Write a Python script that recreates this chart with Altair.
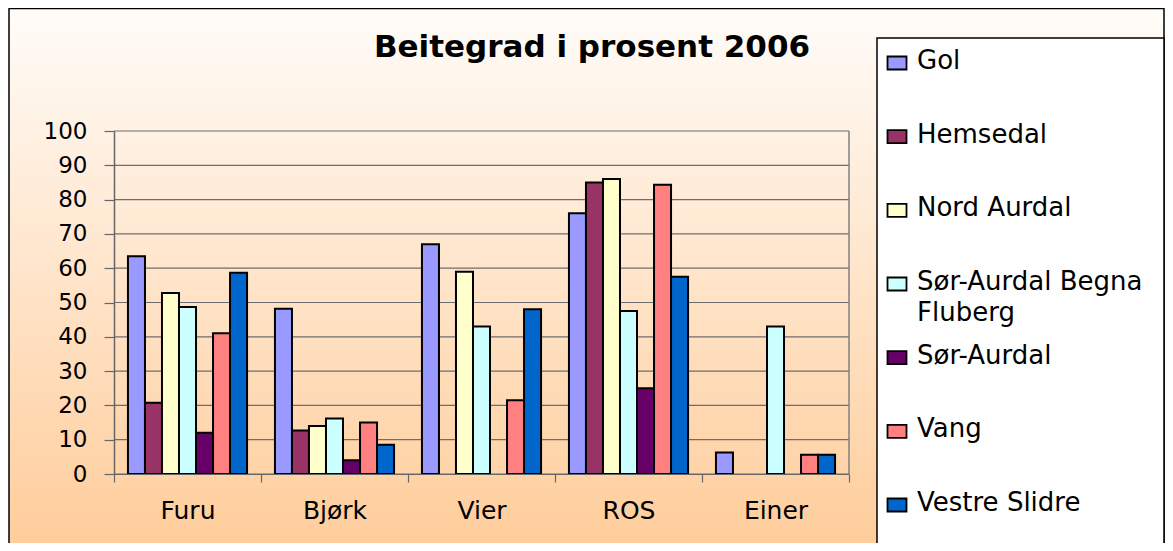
import altair as alt
import pandas as pd

# ---- data ----
categories = ["Furu", "Bjørk", "Vier", "ROS", "Einer"]
series = ["Gol", "Hemsedal", "Nord Aurdal", "Sør-Aurdal Begna Fluberg",
          "Sør-Aurdal", "Vang", "Vestre Slidre"]
series_labels = ["Gol", "Hemsedal", "Nord Aurdal", "Sør-Aurdal Begna\nFluberg",
                 "Sør-Aurdal", "Vang", "Vestre Slidre"]
colors = ["#9999FF", "#993366", "#FFFFCC", "#CCFFFF", "#660066", "#FF8080", "#0066CC"]

gol = [63.5, 48.2, 67, 76, 6.3]
hemsedal = [20.8, 12.7, None, 85, None]
nord_aurdal = [52.8, 14, 59, 86, None]
sor_aurdal_bf = [48.7, 16.2, 43, 47.5, 43]
sor_aurdal = [12, 4, None, 25, None]
vang = [41, 15, 21.5, 84.3, 5.6]
vestre_slidre = [58.7, 8.5, 48, 57.5, 5.6]

y_ticks = list(range(0, 101, 10))
title_text = "Beitegrad i prosent 2006"

FONT = "DejaVu Sans"

# ---- tables ----
values_by_series = [gol, hemsedal, nord_aurdal, sor_aurdal_bf, sor_aurdal, vang, vestre_slidre]
rows = []
for s, vals in zip(series, values_by_series):
    for c, v in zip(categories, vals):
        if v is not None:
            rows.append({"cat": c, "series": s, "value": v})
df = pd.DataFrame(rows)
df_leg = pd.DataFrame({"series": series, "label": series_labels})
df_ticks = pd.DataFrame({"v": y_ticks})
df_title = pd.DataFrame({"t": [title_text]})
one = pd.DataFrame({"a": [0]})

W, H = 735, 343
PAD_L, PAD_T, PAD_R, PAD_B = 106, 123, 316, 69
RIGHT = W + PAD_R - 1  # right edge of drawing in plot coords

color_scale = alt.Scale(domain=series, range=colors)
leg_y = alt.Y("series:N", sort=series,
              scale=alt.Scale(type="point", domain=series, range=[-68, 374], padding=0),
              axis=None)

gradient = alt.Gradient(
    gradient="linear", x1=0, y1=0, x2=0, y2=1,
    stops=[alt.GradientStop(color="#FFFCF9", offset=0),
           alt.GradientStop(color="#FFCC99", offset=1)],
)

bg = alt.Chart(one).mark_rect(fill=gradient, stroke="black", strokeWidth=1.5).encode(
    x=alt.value(-105), x2=alt.value(RIGHT), y=alt.value(-122.5), y2=alt.value(425)
)

legend_box = alt.Chart(one).mark_rect(fill="white", stroke="black", strokeWidth=1.5).encode(
    x=alt.value(763), x2=alt.value(RIGHT), y=alt.value(-93), y2=alt.value(430)
)

grid = alt.Chart(df_ticks).mark_rule(color="#6E6E6E", strokeWidth=1.2).encode(
    y=alt.Y("v:Q", scale=alt.Scale(domain=[0, 100], nice=False), axis=None),
    x=alt.value(0), x2=alt.value(W),
)

right_border = alt.Chart(one).mark_rule(color="#808080", strokeWidth=1.5).encode(
    x=alt.value(W), y=alt.value(0), y2=alt.value(H)
)

bars = alt.Chart(df).mark_bar(stroke="black", strokeWidth=2).encode(
    x=alt.X("cat:N", sort=categories,
            scale=alt.Scale(domain=categories, paddingInner=0, paddingOuter=0),
            axis=alt.Axis(title=None, labelAngle=0, tickBand="extent", tickSize=8,
                          labelFontSize=25, labelFont=FONT, labelColor="black",
                          labelPadding=16, domainColor="#666666", tickColor="#666666",
                          tickWidth=1.2, domainWidth=1.2, grid=False, zindex=1)),
    xOffset=alt.XOffset("series:N", sort=series,
                        scale=alt.Scale(domain=series, paddingInner=0, paddingOuter=0.82)),
    y=alt.Y("value:Q", scale=alt.Scale(domain=[0, 100], nice=False),
            axis=alt.Axis(values=y_ticks, title=None, grid=False, tickSize=10,
                          labelPadding=17, labelFontSize=23, labelFont=FONT,
                          labelColor="black", domainColor="#666666", tickColor="#666666",
                          tickWidth=1.2, domainWidth=1.5, zindex=1)),
    color=alt.Color("series:N", scale=color_scale, legend=None),
)

leg_sym = alt.Chart(df_leg).mark_point(
    shape="M-1,-0.684H1V0.684H-1Z", size=361, filled=True, opacity=1,
    stroke="black", strokeWidth=1.8,
).encode(
    x=alt.value(783), y=leg_y,
    color=alt.Color("series:N", scale=color_scale, legend=None),
)

leg_txt = alt.Chart(df_leg).mark_text(
    align="left", baseline="middle", font=FONT, fontSize=26, lineBreak="\n",
    lineHeight=31, dy=-2, color="black",
).encode(x=alt.value(803), y=leg_y, text="label:N")

title = alt.Chart(df_title).mark_text(
    font=FONT, fontSize=31, fontWeight="bold", align="center",
    baseline="alphabetic", color="black",
).encode(x=alt.value(478), y=alt.value(-74), text="t:N")

chart = alt.layer(
    bg, legend_box, grid, right_border, bars, leg_sym, leg_txt, title
).resolve_scale(y="independent").properties(
    width=W, height=H,
    padding={"left": PAD_L, "top": PAD_T, "right": PAD_R, "bottom": PAD_B},
    autosize=alt.AutoSizeParams(type="none"),
    background="white",
).configure_view(stroke=None)

chart.save("out.html", embed_options={"renderer": "svg", "actions": False})
